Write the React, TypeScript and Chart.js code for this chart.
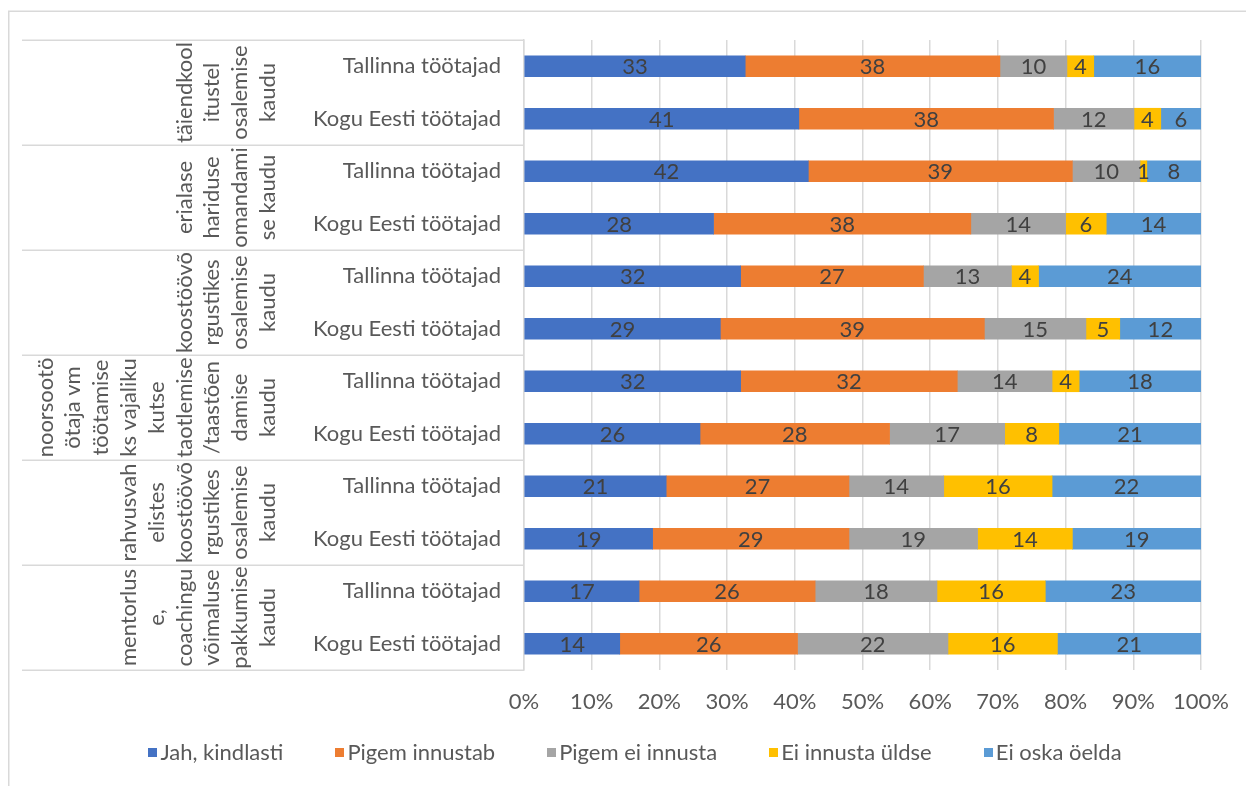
import React, { useEffect, useRef } from "react";
import { Chart, registerables } from "chart.js";

Chart.register(...registerables);

const categories = [
  "Tallinna töötajad",
  "Kogu Eesti töötajad",
  "Tallinna töötajad",
  "Kogu Eesti töötajad",
  "Tallinna töötajad",
  "Kogu Eesti töötajad",
  "Tallinna töötajad",
  "Kogu Eesti töötajad",
  "Tallinna töötajad",
  "Kogu Eesti töötajad",
  "Tallinna töötajad",
  "Kogu Eesti töötajad",
];

const groupLabels = [
  ["täiendkool", "itustel", "osalemise", "kaudu"],
  ["erialase", "hariduse", "omandami", "se kaudu"],
  ["koostöövõ", "rgustikes", "osalemise", "kaudu"],
  ["noorsootö", "ötaja vm", "töötamise", "ks vajaliku", "kutse", "taotlemise", "/taastõen", "damise", "kaudu"],
  ["rahvusvah", "elistes", "koostöövõ", "rgustikes", "osalemise", "kaudu"],
  ["mentorlus", "e,", "coachingu", "võimaluse", "pakkumise", "kaudu"],
];

const seriesNames = ["Jah, kindlasti", "Pigem innustab", "Pigem ei innusta", "Ei innusta üldse", "Ei oska öelda"];

const jahKindlasti = [33, 41, 42, 28, 32, 29, 32, 26, 21, 19, 17, 14];
const pigemInnustab = [38, 38, 39, 38, 27, 39, 32, 28, 27, 29, 26, 26];
const pigemEiInnusta = [10, 12, 10, 14, 13, 15, 14, 17, 14, 19, 18, 22];
const eiInnustaUldse = [4, 4, 1, 6, 4, 5, 4, 8, 16, 14, 16, 16];
const eiOskaOelda = [16, 6, 8, 14, 24, 12, 18, 21, 22, 19, 23, 21];

const xTicks = [0, 10, 20, 30, 40, 50, 60, 70, 80, 90, 100];

const colors = ["#4472C4", "#ED7D31", "#A5A5A5", "#FFC000", "#5B9BD5"];

const FONT = "Lato, 'Open Sans', sans-serif";
const FS = 22;
const TEXT = "#595959";
const GRID = "#D9D9D9";

export default function App() {
  const ref = useRef<HTMLCanvasElement>(null);

  useEffect(() => {
    const series = [jahKindlasti, pigemInnustab, pigemEiInnusta, eiInnustaUldse, eiOskaOelda];
    const rowSums = categories.map((_, i) => series.reduce((s, arr) => s + arr[i], 0));

    const datasets = series.map((arr, k) => ({
      label: seriesNames[k],
      data: arr.map((v, i) => (v / rowSums[i]) * 100),
      rawValues: arr,
      backgroundColor: colors[k],
      borderWidth: 0,
      barThickness: 21,
    }));

    const framePlugin = {
      id: "frame",
      beforeDraw(chart: any) {
        const ctx = chart.ctx;
        ctx.save();
        ctx.fillStyle = "#ffffff";
        ctx.fillRect(0, 0, chart.width, chart.height);
        ctx.strokeStyle = GRID;
        ctx.lineWidth = 1.5;
        ctx.beginPath();
        ctx.moveTo(8.75, chart.height);
        ctx.lineTo(8.75, 11.25);
        ctx.lineTo(chart.width, 11.25);
        ctx.stroke();
        ctx.restore();
      },
    };

    const groupPlugin = {
      id: "groups",
      afterDraw(chart: any) {
        const ctx = chart.ctx;
        const y = chart.scales.y;
        const area = chart.chartArea;
        const step = y.getPixelForValue(1) - y.getPixelForValue(0);
        ctx.save();
        ctx.strokeStyle = GRID;
        ctx.lineWidth = 1.5;
        for (let g = 0; g <= groupLabels.length; g++) {
          const yy = g < groupLabels.length ? y.getPixelForValue(2 * g) - step / 2 : y.getPixelForValue(2 * g - 1) + step / 2;
          ctx.beginPath();
          ctx.moveTo(22, Math.round(yy) + 0.25);
          ctx.lineTo(area.left, Math.round(yy) + 0.25);
          ctx.stroke();
        }
        ctx.fillStyle = TEXT;
        ctx.font = `${FS}px ${FONT}`;
        ctx.textAlign = "center";
        ctx.textBaseline = "middle";
        const lastX = area.left - 256;
        const lineGap = 27.8;
        groupLabels.forEach((lines, g) => {
          const cy = (y.getPixelForValue(2 * g) + y.getPixelForValue(2 * g + 1)) / 2;
          lines.forEach((line, i) => {
            const x = lastX - (lines.length - 1 - i) * lineGap;
            ctx.save();
            ctx.translate(x, cy);
            ctx.rotate(-Math.PI / 2);
            ctx.fillText(line, 0, 0);
            ctx.restore();
          });
        });
        ctx.restore();
      },
    };

    const legendPlugin = {
      id: "customLegend",
      afterDraw(chart: any) {
        const ctx = chart.ctx;
        ctx.save();
        ctx.font = `${FS}px ${FONT}`;
        ctx.textAlign = "left";
        ctx.textBaseline = "middle";
        const box = 9;
        const textGap = 3;
        const gap = 52;
        const items = chart.data.datasets.map((ds: any) => ({ text: ds.label, color: ds.backgroundColor }));
        const widths = items.map((it: any) => box + textGap + ctx.measureText(it.text).width);
        const total = widths.reduce((a: number, b: number) => a + b, 0) + gap * (items.length - 1);
        const centerX = 635;
        const cy = 752;
        let x = centerX - total / 2;
        items.forEach((it: any, i: number) => {
          ctx.fillStyle = it.color;
          ctx.fillRect(Math.round(x), Math.round(cy - box / 2), box, box);
          ctx.fillStyle = TEXT;
          ctx.fillText(it.text, x + box + textGap, cy + 1);
          x += widths[i] + gap;
        });
        ctx.restore();
      },
    };

    const valueLabelPlugin = {
      id: "valueLabels",
      afterDatasetsDraw(chart: any) {
        const ctx = chart.ctx;
        ctx.save();
        ctx.fillStyle = "#404040";
        ctx.font = `${FS}px ${FONT}`;
        ctx.textAlign = "center";
        ctx.textBaseline = "middle";
        chart.data.datasets.forEach((ds: any, k: number) => {
          const meta = chart.getDatasetMeta(k);
          meta.data.forEach((el: any, i: number) => {
            const cx = (el.x + el.base) / 2;
            ctx.fillText(String(ds.rawValues[i]), cx, el.y + 1);
          });
        });
        ctx.restore();
      },
    };

    const chart = new Chart(ref.current as HTMLCanvasElement, {
      type: "bar",
      data: { labels: categories, datasets: datasets as any },
      options: {
        indexAxis: "y",
        animation: false,
        responsive: false,
        maintainAspectRatio: false,
        layout: { padding: { left: 70, right: 45, top: 40, bottom: 56 } },
        scales: {
          x: {
            stacked: true,
            min: 0,
            max: 100,
            afterBuildTicks(scale: any) {
              scale.ticks = xTicks.map((v) => ({ value: v }));
            },
            afterFit(scale: any) {
              scale.height = 60;
            },
            grid: { color: GRID, lineWidth: 1.5, drawTicks: false },
            border: { display: false },
            ticks: {
              padding: 7,
              minRotation: 0,
              maxRotation: 0,
              autoSkip: false,
              color: TEXT,
              font: { family: FONT, size: FS, lineHeight: 2.3 },
              callback: (v: any) => `${v}%`,
            },
          },
          y: {
            stacked: true,
            afterFit(scale: any) {
              scale.width = 454;
            },
            grid: { display: false, drawTicks: false },
            border: { display: true, color: GRID, width: 1.5 },
            ticks: {
              padding: 23,
              color: TEXT,
              font: { family: FONT, size: FS },
            },
          },
        },
        plugins: {
          legend: { display: false },
          tooltip: { enabled: false },
        },
      },
      plugins: [framePlugin, groupPlugin, valueLabelPlugin, legendPlugin],
    });

    return () => chart.destroy();
  }, []);

  return (
    <div style={{ position: "absolute", left: 0, top: 0, width: 1246, height: 786, background: "#fff" }}>
      <canvas ref={ref} width={1246} height={786} style={{ display: "block" }} />
    </div>
  );
}
